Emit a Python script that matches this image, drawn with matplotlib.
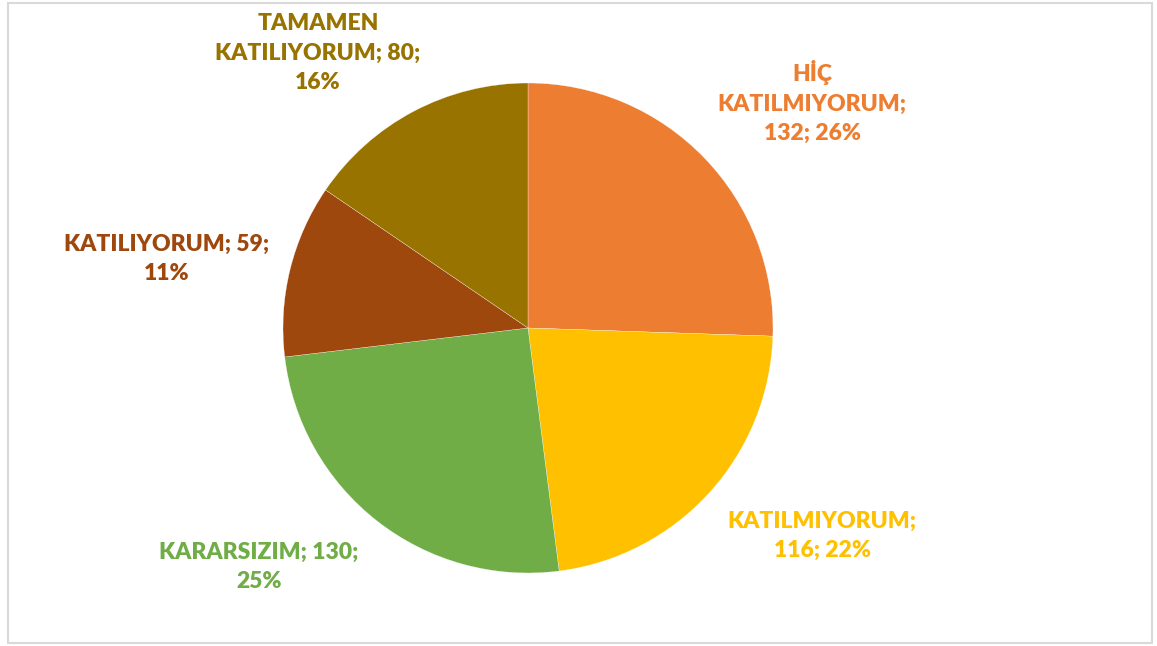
import matplotlib
matplotlib.use("Agg")
import matplotlib.pyplot as plt
from matplotlib.patches import Rectangle

categories = ["HİÇ\nKATILMIYORUM;", "KATILMIYORUM;", "KARARSIZIM; 130;", "KATILIYORUM; 59;", "TAMAMEN\nKATILIYORUM; 80;"]
values = [132, 116, 130, 59, 80]
percents = ["26%", "22%", "25%", "11%", "16%"]
label_texts = [
    "HİÇ\nKATILMIYORUM;\n132; 26%",
    "KATILMIYORUM;\n116; 22%",
    "KARARSIZIM; 130;\n25%",
    "KATILIYORUM; 59;\n11%",
    "TAMAMEN\nKATILIYORUM; 80;\n16%",
]
colors = ["#ED7D31", "#FFC000", "#70AD47", "#9E480E", "#997300"]

W, H = 1157, 646
fig = plt.figure(figsize=(W / 100, H / 100), dpi=100)
ax = fig.add_axes([0, 0, 1, 1])

cx, cy, r = 528, H - 328, 245
ax.pie(values, colors=colors, startangle=90, counterclock=False,
       center=(cx, cy), radius=r,
       wedgeprops=dict(edgecolor="white", linewidth=0.2))
ax.set_xlim(0, W)
ax.set_ylim(0, H)
ax.set_aspect("equal")
ax.axis("off")

# label centers (pixels from top-left)
label_pos = [(812, 102), (822, 536), (259, 567), (167, 259), (318, 53)]
for txt, col, (lx, ly) in zip(label_texts, colors, label_pos):
    ax.text(lx, H - ly, txt, color=col, ha="center", va="center",
            fontsize=16.5, fontweight="heavy", family=["Lato", "DejaVu Sans"],
            linespacing=1.5)

fig.patches.append(Rectangle((7.5 / W, 3 / H), (1152 - 7.5) / W, (643 - 3) / H,
                             transform=fig.transFigure, fill=False,
                             edgecolor="#D9D9D9", linewidth=1.5))

fig.savefig("out.png", dpi=100, facecolor="white")
